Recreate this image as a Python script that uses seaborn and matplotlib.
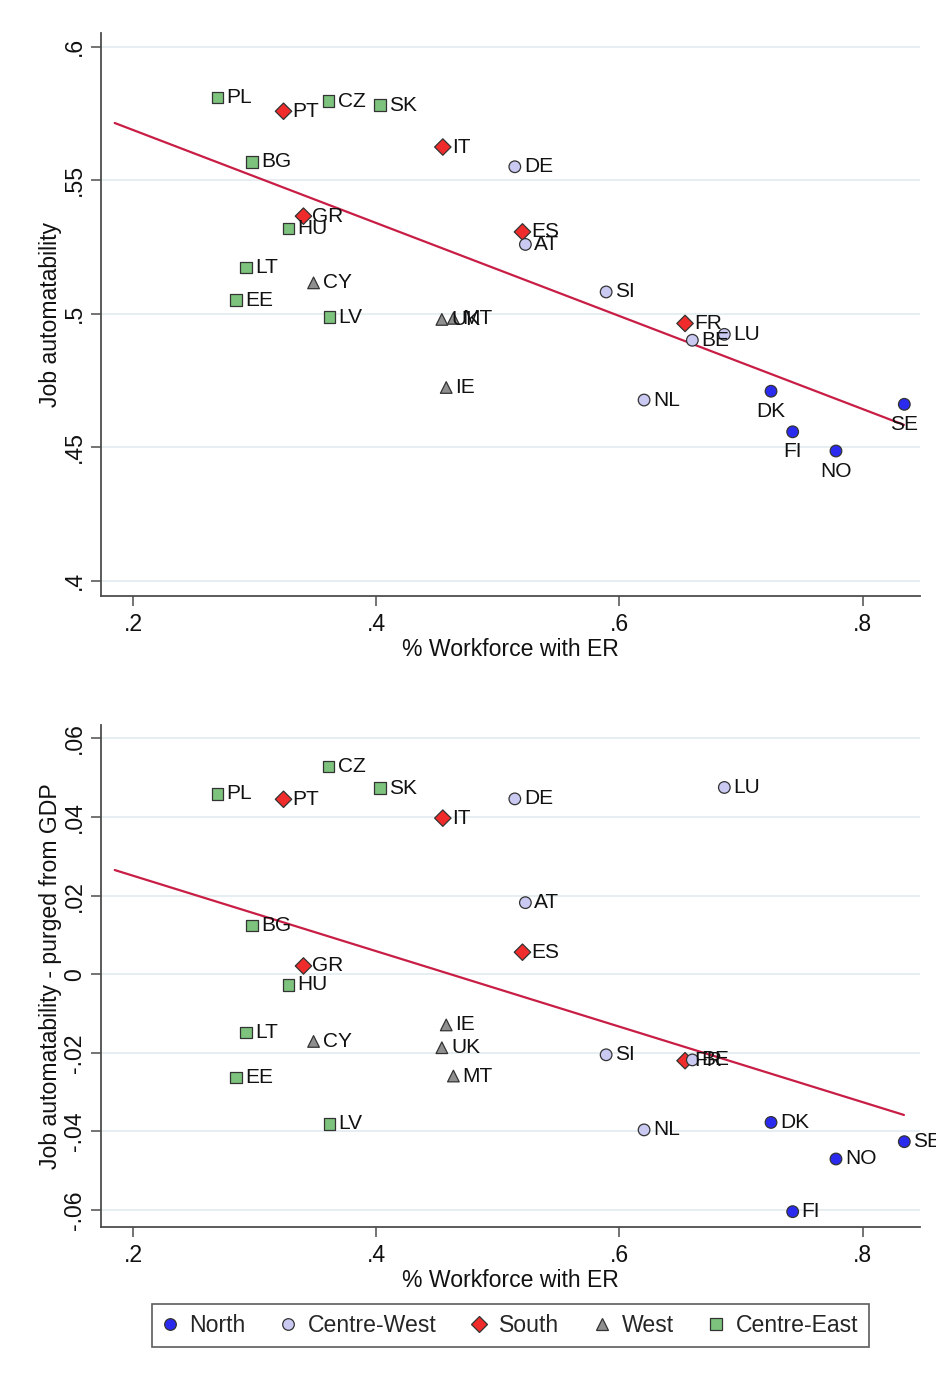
import numpy as np
import pandas as pd
import matplotlib
matplotlib.use("Agg")
import matplotlib.pyplot as plt
import seaborn as sns

# data
countries = ['PL', 'PT', 'CZ', 'SK', 'IT', 'BG', 'GR', 'HU', 'LT', 'CY', 'EE', 'LV',
             'DE', 'ES', 'AT', 'SI', 'UK', 'MT', 'FR', 'BE', 'LU', 'IE', 'NL',
             'DK', 'FI', 'NO', 'SE']
er_share = [0.2696, 0.3238, 0.3608, 0.4033, 0.4548, 0.2978, 0.3402, 0.3279, 0.2929, 0.3485, 0.2847, 0.3616,
            0.5140, 0.5203, 0.5227, 0.5891, 0.4540, 0.4635, 0.6540, 0.6600, 0.6863, 0.4576, 0.6203,
            0.7247, 0.7425, 0.7781, 0.8343]
autom = [0.5810, 0.5759, 0.5797, 0.5782, 0.5625, 0.5569, 0.5366, 0.5320, 0.5174, 0.5116, 0.5051, 0.4987,
         0.5551, 0.5307, 0.5260, 0.5082, 0.4979, 0.4983, 0.4964, 0.4901, 0.4923, 0.4724, 0.4677,
         0.4710, 0.4558, 0.4486, 0.4661]
autom_purged = [0.0459, 0.0445, 0.0528, 0.0473, 0.0397, 0.0124, 0.0021, -0.0027, -0.0148, -0.0171, -0.0263, -0.0381,
                0.0446, 0.0056, 0.0182, -0.0205, -0.0187, -0.0259, -0.0220, -0.0218, 0.0475, -0.0129, -0.0396,
                -0.0377, -0.0604, -0.0470, -0.0426]
region = ['Centre-East', 'South', 'Centre-East', 'Centre-East', 'South', 'Centre-East', 'South', 'Centre-East',
          'Centre-East', 'West', 'Centre-East', 'Centre-East',
          'Centre-West', 'South', 'Centre-West', 'Centre-West', 'West', 'West', 'South', 'Centre-West',
          'Centre-West', 'West', 'Centre-West',
          'North', 'North', 'North', 'North']

# fitted line (end points of the linear fit)
fit_x = [0.185, 0.834]
fit_top = [0.5715, 0.4584]
fit_bottom = [0.0265, -0.0358]

regions = ['North', 'Centre-West', 'South', 'West', 'Centre-East']
region_colors = ['#2b2bef', '#c9c9f2', '#ef2b2b', '#8f8f8f', '#7dc37d']
region_markers = ['o', 'o', 'D', '^', 's']

x_ticks = [0.2, 0.4, 0.6, 0.8]
x_ticklabels = ['.2', '.4', '.6', '.8']
top_yticks = [0.4, 0.45, 0.5, 0.55, 0.6]
top_yticklabels = ['.4', '.45', '.5', '.55', '.6']
bot_yticks = [-0.06, -0.04, -0.02, 0, 0.02, 0.04, 0.06]
bot_yticklabels = ['-.06', '-.04', '-.02', '0', '.02', '.04', '.06']

labels_below_top = ['DK', 'FI', 'NO', 'SE']

df = pd.DataFrame({'country': countries, 'er': er_share, 'autom': autom,
                   'autom_purged': autom_purged, 'region': region})

sns.set_theme(style="ticks")
plt.rcParams['font.family'] = ['Liberation Sans', 'DejaVu Sans']

AXCOL = '#4d4d4d'
LINECOL = '#c81e45'
TXT = 16.6   # axis text size
LBL = 15     # country label size
palette = dict(zip(regions, region_colors))
markers = dict(zip(regions, region_markers))


def draw_panel(ax, ycol, fit_y, ylabel, yticks, yticklabels, ylim, below):
    sns.lineplot(x=fit_x, y=fit_y, ax=ax, color=LINECOL, linewidth=1.6, zorder=2)
    sns.scatterplot(data=df, x='er', y=ycol, hue='region', style='region',
                    hue_order=regions, style_order=regions, palette=palette, markers=markers,
                    s=70, edgecolor='#333333', linewidth=0.9, ax=ax, zorder=3)
    for _, r in df.iterrows():
        if r['country'] in below:
            ax.annotate(r['country'], (r['er'], r[ycol]), xytext=(0, -14.5), textcoords='offset points',
                        ha='center', va='center', fontsize=LBL, color='#111111', zorder=4)
        else:
            ax.annotate(r['country'], (r['er'], r[ycol]), xytext=(6.5, 0), textcoords='offset points',
                        ha='left', va='center', fontsize=LBL, color='#111111', zorder=4)

    ax.set_xlim(0.1737, 0.8472)
    ax.set_ylim(*ylim)
    ax.set_xticks(x_ticks, labels=x_ticklabels)
    ax.set_yticks(yticks, labels=yticklabels, rotation=90, va='center')
    ax.yaxis.grid(True, color='#e6eef1', linewidth=1.4)
    ax.xaxis.grid(False)
    ax.set_axisbelow(True)
    sns.despine(ax=ax)
    for side in ['left', 'bottom']:
        ax.spines[side].set_color(AXCOL)
        ax.spines[side].set_linewidth(1.3)
    ax.tick_params(axis='both', direction='out', length=7, width=1.1, color=AXCOL,
                   labelsize=TXT, labelcolor='#111111')
    ax.tick_params(axis='x', pad=5)
    ax.tick_params(axis='y', pad=4)
    ax.set_xlabel('% Workforce with ER', fontsize=TXT, color='#111111', labelpad=2)
    ax.set_ylabel(ylabel, fontsize=TXT, color='#111111', labelpad=0.5)


fig = plt.figure(figsize=(9.36, 13.83), dpi=100)
ax1 = fig.add_axes([0.1079, 0.5691, 0.875, 0.4070])
ax2 = fig.add_axes([0.1079, 0.1128, 0.875, 0.3630])

draw_panel(ax1, 'autom', fit_top, 'Job automatability', top_yticks, top_yticklabels,
           (0.3943, 0.6052), labels_below_top)
draw_panel(ax2, 'autom_purged', fit_bottom, 'Job automatability - purged from GDP', bot_yticks,
           bot_yticklabels, (-0.0643, 0.0634), [])

handles, labels = ax2.get_legend_handles_labels()
keep = [(h, l) for h, l in zip(handles, labels) if l in regions]
ax1.get_legend().remove()
ax2.get_legend().remove()
leg = fig.legend([h for h, _ in keep], [l for _, l in keep], loc='center',
                 bbox_to_anchor=(0.545, 0.0416), ncol=5, frameon=True, fancybox=False,
                 edgecolor='#333333', fontsize=TXT, handlelength=0.7, handletextpad=0.5,
                 columnspacing=1.5, borderpad=0.45, markerscale=1.0)
leg.get_frame().set_linewidth(1.2)

fig.savefig('out.png', dpi=100, facecolor='white')
